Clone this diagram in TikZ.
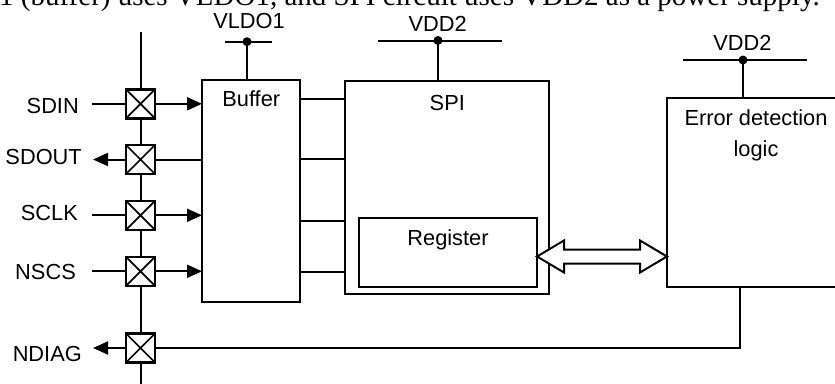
\documentclass[tikz,border=0pt]{standalone}
\usepackage{fontspec}
\setmainfont{Liberation Sans}
\newfontfamily\serifx{Liberation Serif}
\usetikzlibrary{arrows.meta,calc}
\begin{document}
\begin{tikzpicture}[x=1pt,y=-1pt,
  box/.style={draw, line width=2.4pt, fill=white, inner sep=0pt, outer sep=0pt, anchor=north west},
  sw/.style={draw, line width=2.4pt, fill=white, minimum size=29pt, inner sep=0pt, outer sep=0pt,
    path picture={\draw[line width=1.7pt] (path picture bounding box.north west) -- (path picture bounding box.south east)
      (path picture bounding box.south west) -- (path picture bounding box.north east);}},
  lbl/.style={font=\fontsize{21.8}{26}\selectfont, inner sep=0pt},
  wire/.style={line width=2pt},
  arr/.style={line width=2pt, -{Triangle[length=15pt,width=13pt]}},
  dot/.style={circle, fill=black, minimum size=9pt, inner sep=0pt}]
\clip (0,0) rectangle (835,383);
% caption fragment at top
\node[anchor=base west, inner sep=0pt, font=\serifx\fontsize{29}{33}\selectfont] (cap) at (-1,5.5)
  {1 (buffer) uses VLDO1, and SPI circuit uses VDD2 as a power supply.};
% bus
\coordinate (bt) at (140.5,32);
\coordinate (bb) at (140.5,390);
\draw[wire] (bt) -- (bb);
% blocks
\node[box, minimum width=98pt, minimum height=222pt] (buf) at (202,80) {};
\node[box, minimum width=204pt, minimum height=213pt] (spi) at (345,81) {};
\node[box, minimum width=178pt, minimum height=69pt] (reg) at (359,218) {};
\node[box, minimum width=220pt, minimum height=189pt] (err) at (667,98) {};
\node[lbl] (tbuf) at (251.3,99.2) {Buffer};
\node[lbl] (tspi) at (447.3,102.5) {SPI};
\node[lbl, anchor=base] (treg) at (448,245) {Register};
\node[lbl, anchor=base] (terr1) at (756,125.7) {Error detection};
\node[lbl, anchor=base] (terr2) at (756,156.7) {logic};
% supplies
\coordinate (v1l) at (225,41.7); \coordinate (v1r) at (272,41.7);
\node[dot] (v1d) at (247,41.7) {};
\draw[wire] (v1l) -- (v1r); \draw[wire] (v1d.center) -- (v1d.center |- buf.north);
\node[lbl] (tv1) at (249,21.3) {VLDO1};
\coordinate (v2l) at (378,40.5); \coordinate (v2r) at (502,40.5);
\node[dot] (v2d) at (438,40.5) {};
\draw[wire] (v2l) -- (v2r); \draw[wire] (v2d.center) -- (v2d.center |- spi.north);
\node[lbl] (tv2) at (437.7,24.2) {VDD2};
\coordinate (v3l) at (683,60); \coordinate (v3r) at (807,60);
\node[dot] (v3d) at (743,60) {};
\draw[wire] (v3l) -- (v3r); \draw[wire] (v3d.center) -- (v3d.center |- err.north);
\node[lbl] (tv3) at (742.5,42.5) {VDD2};
% buffer to SPI lines
\foreach \yy/\nm in {99/a,159/b,220.5/c,272/d}{
  \coordinate (bl\nm) at (buf.east |- 0,\yy);
  \draw[wire] (bl\nm) -- (bl\nm -| spi.west);
}
% switches
\node[sw] (sSDIN) at (140.5,103.8) {};
\node[sw] (sSDOUT) at (140.5,159.5) {};
\node[sw] (sSCLK) at (140.5,215.3) {};
\node[sw] (sNSCS) at (140.5,271.3) {};
\node[sw] (sNDIAG) at (140.5,348) {};
% pin labels
\node[lbl, anchor=east] (lSDIN) at (79,106.2) {SDIN};
\node[lbl, anchor=east] (lSDOUT) at (82,157.2) {SDOUT};
\node[lbl, anchor=east] (lSCLK) at (78,212.5) {SCLK};
\node[lbl, anchor=east] (lNSCS) at (76,271.7) {NSCS};
\node[lbl, anchor=east] (lNDIAG) at (82,354) {NDIAG};
% inputs
\coordinate (iSDIN) at (92,103.8);
\coordinate (iSCLK) at (92,215.3);
\coordinate (iNSCS) at (92,271.3);
\draw[wire] (iSDIN) -- (sSDIN.west);
\draw[wire] (iSCLK) -- (sSCLK.west);
\draw[wire] (iNSCS) -- (sNSCS.west);
\draw[arr] (sSDIN.east) -- (sSDIN.east -| buf.west);
\draw[arr] (sSCLK.east) -- (sSCLK.east -| buf.west);
\draw[arr] (sNSCS.east) -- (sNSCS.east -| buf.west);
% outputs
\coordinate (oSDOUT) at (93,159.5);
\coordinate (oNDIAG) at (93,348);
\draw[wire] (sSDOUT.east -| buf.west) -- (sSDOUT.east);
\draw[arr] (sSDOUT.west) -- (oSDOUT);
\coordinate (ed) at (740,287);
\draw[wire] (ed) -- (ed |- sNDIAG.east) -- (sNDIAG.east);
\draw[arr] (sNDIAG.west) -- (oNDIAG);
% double arrow register <-> error detection
\coordinate (yd) at (0,256.5);
\coordinate (dl) at (reg.east |- yd);
\coordinate (dr) at (err.west |- yd);
\draw[line width=2pt, fill=white, line join=miter]
  (dl) -- ($(dl)+(27,-16)$) -- ($(dl)+(27,-7)$) -- ($(dr)+(-27,-7)$) -- ($(dr)+(-27,-16)$)
  -- (dr) -- ($(dr)+(-27,16)$) -- ($(dr)+(-27,7)$) -- ($(dl)+(27,7)$) -- ($(dl)+(27,16)$) -- cycle;
\end{tikzpicture}
\end{document}
